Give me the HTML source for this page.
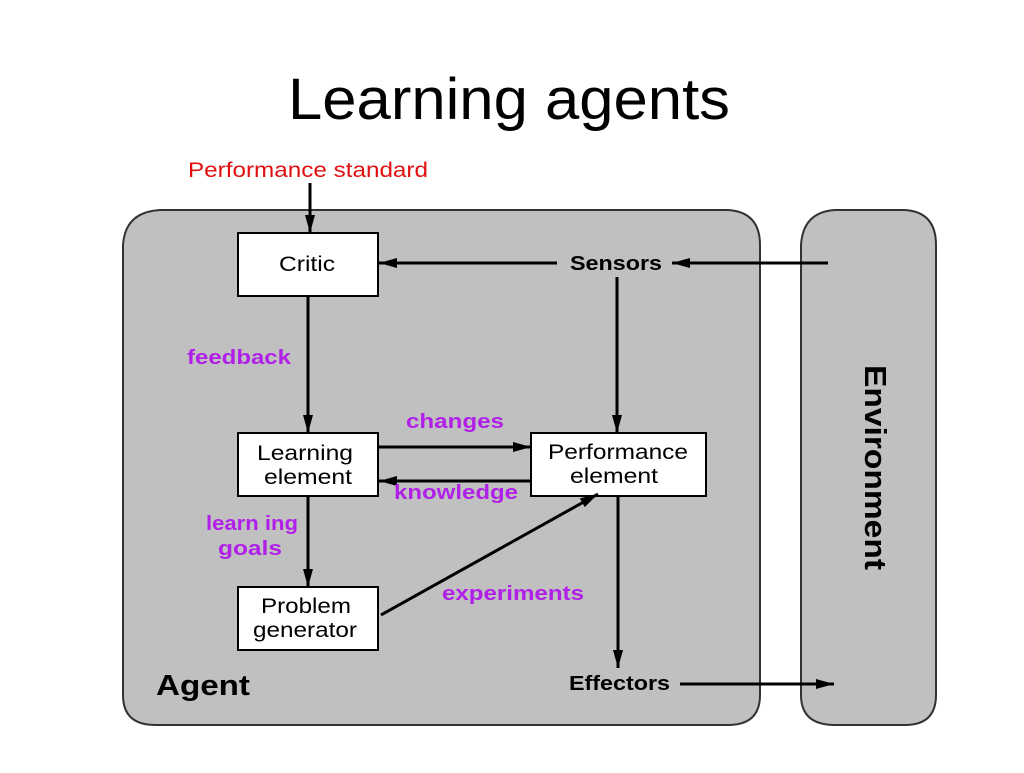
<!DOCTYPE html>
<html><head><style>
body{margin:0;background:#fff;width:1024px;height:768px;overflow:hidden}
svg text{font-family:"Liberation Sans",sans-serif}
</style></head><body>
<svg width="1024" height="768" viewBox="0 0 1024 768">
<defs><marker id="a" markerWidth="18" markerHeight="10" refX="18" refY="5" orient="auto" markerUnits="userSpaceOnUse"><path d="M0,0 L18,5 L0,10 z" fill="#000"/></marker></defs>
<text x="288" y="119" font-size="58" textLength="442" lengthAdjust="spacingAndGlyphs">Learning agents</text>
<path d="M160,210 H728 Q760,212 760,245 V695 Q760,725 728,725 H155 Q123,725 123,695 V245 Q125,212 160,210 Z" fill="#c0c0c0" stroke="#333" stroke-width="2"/>
<path d="M835,210 H905 Q936,212 936,245 V695 Q936,725 905,725 H835 Q801,725 801,695 V245 Q803,212 835,210 Z" fill="#c0c0c0" stroke="#333" stroke-width="2"/>
<text x="188" y="177" font-size="21" fill="#e01010" textLength="240" lengthAdjust="spacingAndGlyphs">Performance standard</text>
<g fill="#fff" stroke="#000" stroke-width="2">
<rect x="238" y="233" width="140" height="63"/>
<rect x="238" y="433" width="140" height="63"/>
<rect x="531" y="433" width="175" height="63"/>
<rect x="238" y="587" width="140" height="63"/>
</g>
<g font-size="21">
<text x="279" y="271" textLength="56" lengthAdjust="spacingAndGlyphs">Critic</text>
<text x="257" y="460" textLength="96" lengthAdjust="spacingAndGlyphs">Learning</text><text x="264" y="484" textLength="88" lengthAdjust="spacingAndGlyphs">element</text>
<text x="548" y="459" textLength="140" lengthAdjust="spacingAndGlyphs">Performance</text><text x="570" y="483" textLength="88" lengthAdjust="spacingAndGlyphs">element</text>
<text x="261" y="613" textLength="90" lengthAdjust="spacingAndGlyphs">Problem</text><text x="253" y="637" textLength="104" lengthAdjust="spacingAndGlyphs">generator</text>
</g>
<g stroke="#000" stroke-width="3" fill="none" marker-end="url(#a)">
<line x1="310" y1="183" x2="310" y2="233"/>
<line x1="557" y1="263" x2="379" y2="263"/>
<line x1="828" y1="263" x2="672" y2="263"/>
<line x1="617" y1="277" x2="617" y2="433"/>
<line x1="308" y1="296" x2="308" y2="433"/>
<line x1="378" y1="447" x2="531" y2="447"/>
<line x1="531" y1="481" x2="379" y2="481"/>
<line x1="308" y1="496" x2="308" y2="587"/>
<line x1="381" y1="615" x2="598" y2="494"/>
<line x1="618" y1="496" x2="618" y2="668"/>
<line x1="680" y1="684" x2="834" y2="684"/>
</g>
<g font-size="20" font-weight="bold">
<text x="570" y="270" textLength="92" lengthAdjust="spacingAndGlyphs">Sensors</text>
<text x="569" y="690" textLength="101" lengthAdjust="spacingAndGlyphs">Effectors</text>
<text x="156" y="695" font-size="29" textLength="94" lengthAdjust="spacingAndGlyphs">Agent</text>
</g>
<g font-size="20" font-weight="bold" fill="#b020e8">
<text x="187" y="364" textLength="104" lengthAdjust="spacingAndGlyphs">feedback</text>
<text x="406" y="428" textLength="98" lengthAdjust="spacingAndGlyphs">changes</text>
<text x="394" y="499" textLength="124" lengthAdjust="spacingAndGlyphs">knowledge</text>
<text x="206" y="530" textLength="92" lengthAdjust="spacingAndGlyphs">learn ing</text>
<text x="218" y="555" textLength="64" lengthAdjust="spacingAndGlyphs">goals</text>
<text x="442" y="600" textLength="142" lengthAdjust="spacingAndGlyphs">experiments</text>
</g>
<text transform="translate(865,365) rotate(90)" font-size="31" font-weight="bold" textLength="205" lengthAdjust="spacingAndGlyphs">Environment</text>
</svg>
</body></html>
